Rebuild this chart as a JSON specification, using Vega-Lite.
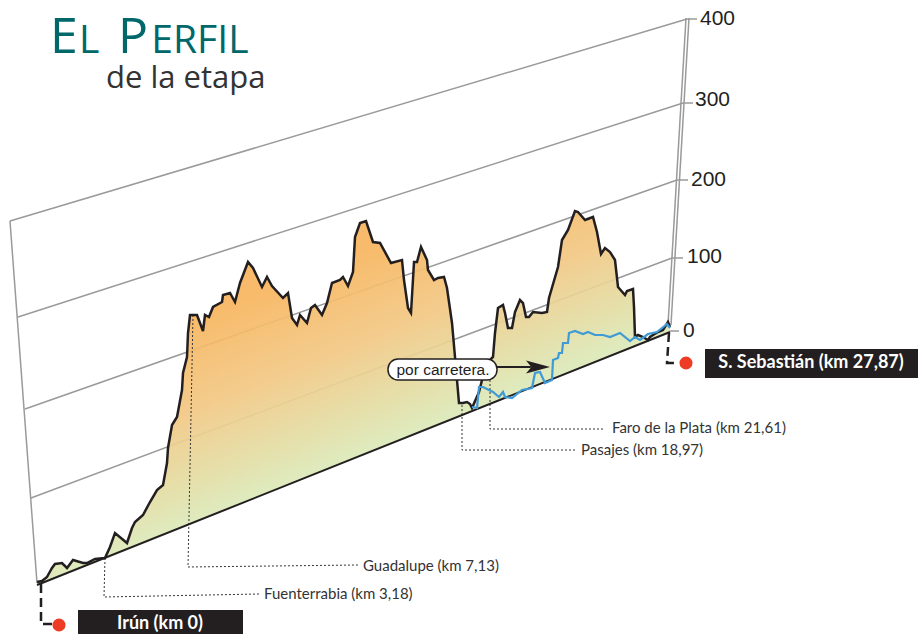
{"$schema":"https://vega.github.io/schema/vega-lite/v6.json","width":918,"height":634,"autosize":{"type":"fit","contains":"padding"},"padding":0,"background":"white","view":{"stroke":null},
"datasets":{
"perfil":[{"km":-0.132,"alt":65,"base":60.75},{"km":0.088,"alt":66.25,"base":63.25},{"km":0.308,"alt":71.25,"base":65.75},{"km":0.528,"alt":82.5,"base":68.25},{"km":0.66,"alt":87.5,"base":69.75},{"km":0.968,"alt":88.75,"base":73.25},{"km":1.188,"alt":82.5,"base":75.75},{"km":1.452,"alt":92.5,"base":78.75},{"km":1.892,"alt":88.75,"base":83.75},{"km":2.068,"alt":88.75,"base":85.75},{"km":2.42,"alt":93.75,"base":89.75},{"km":2.86,"alt":95,"base":94.75},{"km":3.08,"alt":108.75,"base":97.25},{"km":3.3,"alt":126.25,"base":99.75},{"km":3.828,"alt":113.75,"base":105.75},{"km":4.048,"alt":132.5,"base":108.25},{"km":4.18,"alt":140,"base":109.75},{"km":4.532,"alt":148.75,"base":113.75},{"km":4.84,"alt":165,"base":117.25},{"km":5.148,"alt":180,"base":120.75},{"km":5.412,"alt":186.25,"base":123.75},{"km":5.588,"alt":213.75,"base":125.75},{"km":5.632,"alt":232.5,"base":126.25},{"km":5.808,"alt":261.25,"base":128.25},{"km":6.028,"alt":271.25,"base":130.75},{"km":6.248,"alt":305,"base":133.25},{"km":6.292,"alt":326.25,"base":133.75},{"km":6.468,"alt":346.25,"base":135.75},{"km":6.512,"alt":376.25,"base":136.25},{"km":6.6,"alt":398.75,"base":137.25},{"km":6.908,"alt":398.75,"base":140.75},{"km":7.172,"alt":378.75,"base":143.75},{"km":7.26,"alt":398.75,"base":144.75},{"km":7.436,"alt":396.25,"base":146.75},{"km":7.612,"alt":408.75,"base":148.75},{"km":8.008,"alt":415,"base":153.25},{"km":8.052,"alt":423.75,"base":153.75},{"km":8.36,"alt":426.25,"base":157.25},{"km":8.58,"alt":415,"base":159.75},{"km":8.8,"alt":438.75,"base":162.25},{"km":9.152,"alt":465,"base":166.25},{"km":9.372,"alt":457.5,"base":168.75},{"km":9.768,"alt":433.75,"base":173.25},{"km":9.988,"alt":446.25,"base":175.75},{"km":10.208,"alt":435,"base":178.25},{"km":10.692,"alt":420,"base":183.75},{"km":10.912,"alt":426.25,"base":186.25},{"km":11.088,"alt":395,"base":188.25},{"km":11.308,"alt":386.25,"base":190.75},{"km":11.44,"alt":398.75,"base":192.25},{"km":11.748,"alt":388.75,"base":195.75},{"km":11.924,"alt":407.5,"base":197.75},{"km":12.1,"alt":411.25,"base":199.75},{"km":12.408,"alt":398.75,"base":203.25},{"km":12.628,"alt":413.75,"base":205.75},{"km":12.848,"alt":438.75,"base":208.25},{"km":13.2,"alt":442.5,"base":212.25},{"km":13.332,"alt":446.25,"base":213.75},{"km":13.552,"alt":435,"base":216.25},{"km":13.772,"alt":452.5,"base":218.75},{"km":13.86,"alt":496.25,"base":219.75},{"km":14.08,"alt":513.75,"base":222.25},{"km":14.344,"alt":516.25,"base":225.25},{"km":14.652,"alt":490,"base":228.75},{"km":14.96,"alt":488.75,"base":232.25},{"km":15.444,"alt":463.75,"base":237.75},{"km":15.928,"alt":467.5,"base":243.25},{"km":16.016,"alt":442.5,"base":244.25},{"km":16.192,"alt":407.5,"base":246.25},{"km":16.324,"alt":401.25,"base":247.75},{"km":16.456,"alt":465,"base":249.25},{"km":16.588,"alt":465,"base":250.75},{"km":16.764,"alt":483.75,"base":252.75},{"km":17.028,"alt":467.5,"base":255.75},{"km":17.072,"alt":455,"base":256.25},{"km":17.336,"alt":442.5,"base":259.25},{"km":17.512,"alt":445,"base":261.25},{"km":17.776,"alt":446.25,"base":264.25},{"km":17.908,"alt":432.5,"base":265.75},{"km":18.128,"alt":388.75,"base":268.25},{"km":18.26,"alt":346.25,"base":269.75},{"km":18.436,"alt":288.75,"base":271.75},{"km":18.612,"alt":288.75,"base":273.75},{"km":18.788,"alt":290,"base":275.75},{"km":18.92,"alt":287.5,"base":277.25},{"km":19.008,"alt":282.5,"base":278.25},{"km":19.316,"alt":302.5,"base":281.75},{"km":19.448,"alt":317.5,"base":283.25},{"km":19.668,"alt":338.75,"base":285.75},{"km":19.932,"alt":346.25,"base":288.75},{"km":20.02,"alt":376.25,"base":289.75},{"km":20.152,"alt":407.5,"base":291.25},{"km":20.372,"alt":411.25,"base":293.75},{"km":20.46,"alt":401.25,"base":294.75},{"km":20.592,"alt":382.5,"base":296.25},{"km":20.768,"alt":382.5,"base":298.25},{"km":20.9,"alt":402.5,"base":299.75},{"km":21.12,"alt":417.5,"base":302.25},{"km":21.252,"alt":413.75,"base":303.75},{"km":21.384,"alt":396.25,"base":305.25},{"km":21.516,"alt":396.25,"base":306.75},{"km":21.692,"alt":402.5,"base":308.75},{"km":22.088,"alt":401.25,"base":313.25},{"km":22.308,"alt":402.5,"base":315.75},{"km":22.396,"alt":420,"base":316.75},{"km":22.792,"alt":458.75,"base":321.25},{"km":22.968,"alt":492.5,"base":323.25},{"km":23.232,"alt":505,"base":326.25},{"km":23.54,"alt":528.75,"base":329.75},{"km":23.672,"alt":527.5,"base":331.25},{"km":23.98,"alt":517.5,"base":334.75},{"km":24.332,"alt":521.25,"base":338.75},{"km":24.508,"alt":502.5,"base":340.75},{"km":24.684,"alt":475,"base":342.75},{"km":24.86,"alt":482.5,"base":344.75},{"km":25.08,"alt":477.5,"base":347.25},{"km":25.3,"alt":467.5,"base":349.75},{"km":25.432,"alt":433.75,"base":351.25},{"km":25.74,"alt":423.75,"base":354.75},{"km":25.828,"alt":428.75,"base":355.75},{"km":26.092,"alt":431.25,"base":358.75},{"km":26.136,"alt":408.75,"base":359.25},{"km":26.18,"alt":371.25,"base":359.75},{"km":26.312,"alt":373.75,"base":361.25},{"km":26.532,"alt":371.25,"base":363.75},{"km":26.752,"alt":367.5,"base":366.25},{"km":26.84,"alt":371.25,"base":367.25},{"km":26.972,"alt":373.75,"base":368.75},{"km":27.192,"alt":377.5,"base":371.25},{"km":27.412,"alt":380,"base":373.75},{"km":27.632,"alt":390,"base":376.25},{"km":27.72,"alt":383.75,"base":377.25}],
"carretera":[{"km":19.008,"alt":283.75},{"km":19.228,"alt":282.5},{"km":19.316,"alt":308.75},{"km":19.492,"alt":308.75},{"km":19.932,"alt":302.5},{"km":20.196,"alt":296.25},{"km":20.372,"alt":302.5},{"km":20.46,"alt":296.25},{"km":20.768,"alt":295},{"km":21.208,"alt":305},{"km":21.648,"alt":307.5},{"km":21.78,"alt":326.25},{"km":22,"alt":327.5},{"km":22.22,"alt":313.75},{"km":22.528,"alt":317.5},{"km":22.572,"alt":342.5},{"km":22.792,"alt":345},{"km":22.836,"alt":351.25},{"km":22.968,"alt":351.25},{"km":23.012,"alt":363.75},{"km":23.232,"alt":363.75},{"km":23.276,"alt":376.25},{"km":23.54,"alt":378.75},{"km":23.892,"alt":375},{"km":24.112,"alt":377.5},{"km":24.42,"alt":373.75},{"km":24.772,"alt":373.75},{"km":25.08,"alt":371.25},{"km":25.52,"alt":376.25},{"km":25.96,"alt":366.25},{"km":26.18,"alt":371.25},{"km":26.4,"alt":367.5},{"km":26.752,"alt":375},{"km":27.148,"alt":377.5},{"km":27.588,"alt":387.5},{"km":27.72,"alt":382.5}],
"rejilla":[{"g":"400","km":-1.32,"alt":516.25},{"g":"400","km":28.468,"alt":768.75},{"g":"300","km":-0.968,"alt":396.25},{"g":"300","km":28.292,"alt":663.75},{"g":"200","km":-0.66,"alt":281.25},{"g":"200","km":28.028,"alt":567.5},{"g":"100","km":-0.396,"alt":170},{"g":"100","km":27.808,"alt":470},{"g":"izq","km":-1.32,"alt":516.25},{"g":"izq","km":-0.132,"alt":63.75},{"g":"t400","km":28.468,"alt":768.75},{"g":"t400","km":28.908,"alt":768.75},{"g":"t300","km":28.292,"alt":663.75},{"g":"t300","km":28.732,"alt":663.75},{"g":"t200","km":28.028,"alt":567.5},{"g":"t200","km":28.512,"alt":567.5},{"g":"t100","km":27.808,"alt":470},{"g":"t100","km":28.292,"alt":470},{"g":"t0","km":27.676,"alt":378.75},{"g":"t0","km":28.116,"alt":378.75},{"g":"derA","km":28.424,"alt":770},{"g":"derA","km":27.632,"alt":386.25},{"g":"derB","km":28.556,"alt":770},{"g":"derB","km":27.764,"alt":386.25}],
"base":[{"km":-0.132,"alt":61.25},{"km":27.72,"alt":377.5}],
"guias":[{"g":"Fuenterrabia","i":1,"km":2.86,"alt":95},{"g":"Fuenterrabia","i":2,"km":2.816,"alt":46.25},{"g":"Fuenterrabia","i":3,"km":9.636,"alt":50},{"g":"Guadalupe","i":1,"km":6.732,"alt":398.75},{"g":"Guadalupe","i":2,"km":6.512,"alt":83.75},{"g":"Guadalupe","i":3,"km":13.992,"alt":86.25},{"g":"Pasajes","i":1,"km":18.568,"alt":286.25},{"g":"Pasajes","i":2,"km":18.568,"alt":230},{"g":"Pasajes","i":3,"km":23.54,"alt":230},{"g":"Faro","i":1,"km":19.8,"alt":327.5},{"g":"Faro","i":2,"km":19.8,"alt":256.25},{"g":"Faro","i":3,"km":24.86,"alt":256.25}],
"conectores":[{"g":"Irun","i":1,"km":0.044,"alt":62.5},{"g":"Irun","i":2,"km":0.044,"alt":12.5},{"g":"Irun","i":3,"km":0.528,"alt":12.5},{"g":"Seb","i":1,"km":27.676,"alt":376.25},{"g":"Seb","i":2,"km":27.588,"alt":338.75},{"g":"Seb","i":3,"km":28.072,"alt":338.75}],
"puntos":[{"km":0.836,"alt":11.25},{"km":28.424,"alt":338.75}],
"cajas":[{"km":1.672,"km2":8.932,"alt":30,"alt2":0},{"km":29.26,"km2":38.632,"alt":356.25,"alt2":320}],
"cajaTxt":[{"km":5.28,"alt":12.5,"t":"Irún (km 0)"},{"km":33.924,"alt":338.75,"t":"S. Sebastián (km 27,87)"}],
"ejes":[{"km":29.04,"alt":768.75,"t":"400"},{"km":28.82,"alt":667.5,"t":"300"},{"km":28.644,"alt":567.5,"t":"200"},{"km":28.468,"alt":471.25,"t":"100"},{"km":28.292,"alt":378.75,"t":"0"}],
"lugares":[{"km":14.212,"alt":85,"t":"Guadalupe (km 7,13)"},{"km":9.856,"alt":50,"t":"Fuenterrabia (km 3,18)"},{"km":25.168,"alt":257.5,"t":"Faro de la Plata (km 21,61)"},{"km":23.804,"alt":230,"t":"Pasajes (km 18,97)"}],
"grandes":[{"km":0.44,"alt":726.25,"t":"E"},{"km":3.432,"alt":726.25,"t":"P"}],
"pequenas":[{"km":1.716,"alt":726.25,"t":"L"},{"km":4.9,"alt":726.25,"t":"ERFIL"}]
},
"encoding":{"x":{"field":"km","type":"quantitative","axis":null,"scale":{"domain":[-1.76,38.632],"nice":false,"zero":false}},"y":{"field":"alt","type":"quantitative","axis":null,"scale":{"domain":[0,792.5],"nice":false,"zero":false}}},
"layer":[
{"data":{"name":"rejilla"},"mark":{"type":"line","color":"#9a9a9a","strokeWidth":1.5},"encoding":{"detail":{"field":"g"}}},
{"data":{"name":"perfil"},"mark":{"type":"area","fillOpacity":0.92,"color":{"gradient":"linear","x1":0.249,"y1":0.29,"x2":0.5,"y2":0.654,"stops":[{"offset":0,"color":"#F7B55E"},{"offset":0.45,"color":"#F2C884"},{"offset":0.8,"color":"#E3DDA4"},{"offset":1,"color":"#DCE9B8"}]}},"encoding":{"y2":{"field":"base"}}},
{"data":{"name":"guias"},"mark":{"type":"line","color":"#333333","strokeWidth":1,"strokeDash":[2,2]},"encoding":{"detail":{"field":"g"},"order":{"field":"i","type":"ordinal"}}},
{"data":{"name":"perfil"},"mark":{"type":"line","color":"#231f20","strokeWidth":2.5}},
{"data":{"name":"base"},"mark":{"type":"line","color":"#231f20","strokeWidth":2}},
{"data":{"name":"carretera"},"mark":{"type":"line","color":"#3f9ad6","strokeWidth":2.2}},
{"data":{"name":"conectores"},"mark":{"type":"line","color":"#231f20","strokeWidth":2.5,"strokeDash":[9,5]},"encoding":{"detail":{"field":"g"},"order":{"field":"i","type":"ordinal"}}},
{"data":{"name":"puntos"},"mark":{"type":"point","filled":true,"color":"#EE3B25","size":170,"opacity":1}},
{"data":{"name":"cajas"},"mark":{"type":"rect","color":"#231f20"},"encoding":{"x2":{"field":"km2"},"y2":{"field":"alt2"}}},
{"data":{"name":"cajaTxt"},"mark":{"type":"text","color":"white","font":"Lato","fontWeight":"bold","fontSize":18,"align":"center","baseline":"middle"},"encoding":{"text":{"field":"t"}}},
{"data":{"name":"ejes"},"mark":{"type":"text","color":"#231f20","font":"Liberation Sans","fontSize":21,"align":"left","baseline":"middle"},"encoding":{"text":{"field":"t"}}},
{"data":{"name":"lugares"},"mark":{"type":"text","color":"#333333","font":"Lato","fontSize":15,"align":"left","baseline":"middle"},"encoding":{"text":{"field":"t"}}},
{"data":{"values":[{"km":20.108,"alt":333.75},{"km":21.6,"alt":333.75}]},"mark":{"type":"line","color":"#231f20","strokeWidth":2}},
{"data":{"values":[{"km":21.912,"alt":333.75}]},"mark":{"type":"point","filled":true,"opacity":1,"color":"#231f20","size":576,"shape":"M-1,-0.55L1,0L-1,0.55L-0.55,0Z"}},
{"data":{"values":[{"km":15.312,"km2":20.108,"alt":343.75,"alt2":317.5}]},"mark":{"type":"rect","fill":"white","stroke":"#231f20","strokeWidth":1.5,"cornerRadius":10},"encoding":{"x2":{"field":"km2"},"y2":{"field":"alt2"}}},
{"data":{"values":[{"km":17.732,"alt":330,"t":"por carretera."}]},"mark":{"type":"text","color":"#231f20","font":"Liberation Sans","fontSize":15.5,"align":"center","baseline":"middle"},"encoding":{"text":{"field":"t"}}},
{"data":{"name":"grandes"},"mark":{"type":"text","color":"#00676b","font":"Open Sans","fontSize":50,"align":"left","baseline":"alphabetic"},"encoding":{"text":{"field":"t"}}},
{"data":{"name":"pequenas"},"mark":{"type":"text","color":"#00676b","font":"Open Sans","fontSize":39,"align":"left","baseline":"alphabetic"},"encoding":{"text":{"field":"t"}}},
{"data":{"values":[{"km":2.904,"alt":682.5,"t":"de la etapa"}]},"mark":{"type":"text","color":"#333333","font":"Open Sans","fontSize":31,"align":"left","baseline":"alphabetic"},"encoding":{"text":{"field":"t"}}}
]}
